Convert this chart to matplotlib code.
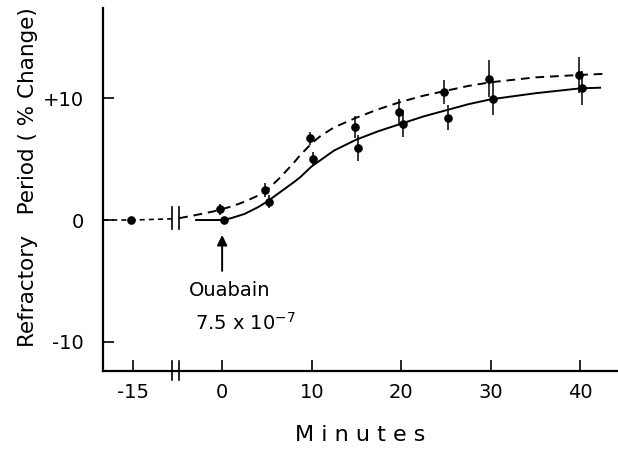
import numpy as np
import matplotlib.pyplot as plt

min_dash = [-15, 0, 5, 10, 15, 20, 25, 30, 40]
val_dash = [0, 0.9, 2.45, 6.7, 7.6, 8.9, 10.5, 11.6, 11.9]
err_dash = [0, 0.45, 0.6, 0.55, 0.9, 1.0, 1.0, 1.55, 1.5]

min_solid = [0, 5, 10, 15, 20, 25, 30, 40]
val_solid = [0, 1.5, 5.0, 5.9, 7.9, 8.4, 9.9, 10.8]
err_solid = [0, 0.55, 0.6, 1.1, 1.1, 1.05, 1.3, 1.4]

# fitted curves
curve_dash_left_x = [-18.3, -15, -10.6]
curve_dash_left_y = [0, 0, 0.1]
curve_dash_x = [-4.8, -3, -1, 0, 1, 2.5, 4, 5, 6.5, 8, 8.7, 10, 11, 12.5, 15,
                17.5, 20, 22.5, 25, 27.5, 30, 35, 40, 43]
curve_dash_y = [0.15, 0.4, 0.7, 0.9, 1.1, 1.5, 2.0, 2.45, 3.5, 4.7, 5.3, 6.3,
                6.9, 7.6, 8.4, 9.1, 9.7, 10.2, 10.6, 11.0, 11.3, 11.7, 11.9, 12.0]
curve_solid_x = [-2.9, 0, 1, 2.5, 4, 5, 6.5, 8, 8.7, 10, 12.5, 15, 17.5, 20,
                 22.5, 25, 27.5, 30, 35, 40, 42.2]
curve_solid_y = [0, 0, 0.15, 0.5, 1.05, 1.5, 2.3, 3.1, 3.5, 4.4, 5.7, 6.6, 7.3,
                 7.9, 8.5, 9.0, 9.5, 9.9, 10.4, 10.8, 10.85]

xticks = [-15, 0, 10, 20, 30, 40]
yticks = [-10, 0, 10]
ylabels = ['-10', '0', '+10']


def pos(m):
    # axis is broken at -5 min: earlier times are shifted right by 5
    m = np.asarray(m, dtype=float)
    return np.where(m <= -5, m + 5, m)


plt.rcParams['font.family'] = 'DejaVu Sans'
fig = plt.figure(figsize=(6.18, 4.5), dpi=100)
ax = fig.add_axes([0.1667, 0.1756, 0.8333, 0.8064])

k = 'black'
ax.plot(pos(curve_dash_left_x), curve_dash_left_y, color=k, lw=1.2, ls=(0, (3, 2.5)))
ax.plot(pos(curve_dash_x), curve_dash_y, color=k, lw=1.4, ls=(0, (4.5, 3)))
ax.plot(pos(curve_solid_x), curve_solid_y, color=k, lw=1.4)

ax.errorbar(pos(min_dash) - 0.2, val_dash, yerr=err_dash, fmt='o', color=k,
            ms=5.2, elinewidth=1.1, capsize=0)
ax.errorbar(pos(min_solid) + 0.2, val_solid, yerr=err_solid, fmt='o', color=k,
            ms=5.2, elinewidth=1.1, capsize=0)

# break marks
for bx in (-5.6, -4.8):
    ax.plot([bx, bx], [-0.7, 1.1], color=k, lw=1.2)
    ax.plot([bx, bx], [-13.1, -11.6], color=k, lw=1.2, clip_on=False)

ax.set_xlim(-13.3, 44.2)
ax.set_ylim(-12.38, 17.38)
ax.set_xticks(pos(xticks))
ax.set_xticklabels([str(t) for t in xticks])
ax.set_yticks(yticks)
ax.set_yticklabels(ylabels)
ax.tick_params(direction='in', length=8, width=1.2, labelsize=14, pad=9)
ax.tick_params(axis='y', pad=14)
for s in ('top', 'right'):
    ax.spines[s].set_visible(False)
for s in ('left', 'bottom'):
    ax.spines[s].set_linewidth(1.6)

ax.set_xlabel('M i n u t e s', fontsize=16, labelpad=16)
fig.text(0.045, 0.607, 'Refractory   Period ( % Change)', rotation=90,
         fontsize=15.5, ha='center', va='center')

ax.annotate('', xy=(0, -1.0), xytext=(0, -4.4),
            arrowprops=dict(arrowstyle='-|>', color=k, lw=1.4,
                            mutation_scale=15))
ax.text(0.8, -5.8, 'Ouabain', fontsize=14, ha='center', va='center')
ax.text(2.6, -8.4, r'7.5 x 10$^{-7}$', fontsize=14, ha='center', va='center')

fig.savefig('out.png', dpi=100)
